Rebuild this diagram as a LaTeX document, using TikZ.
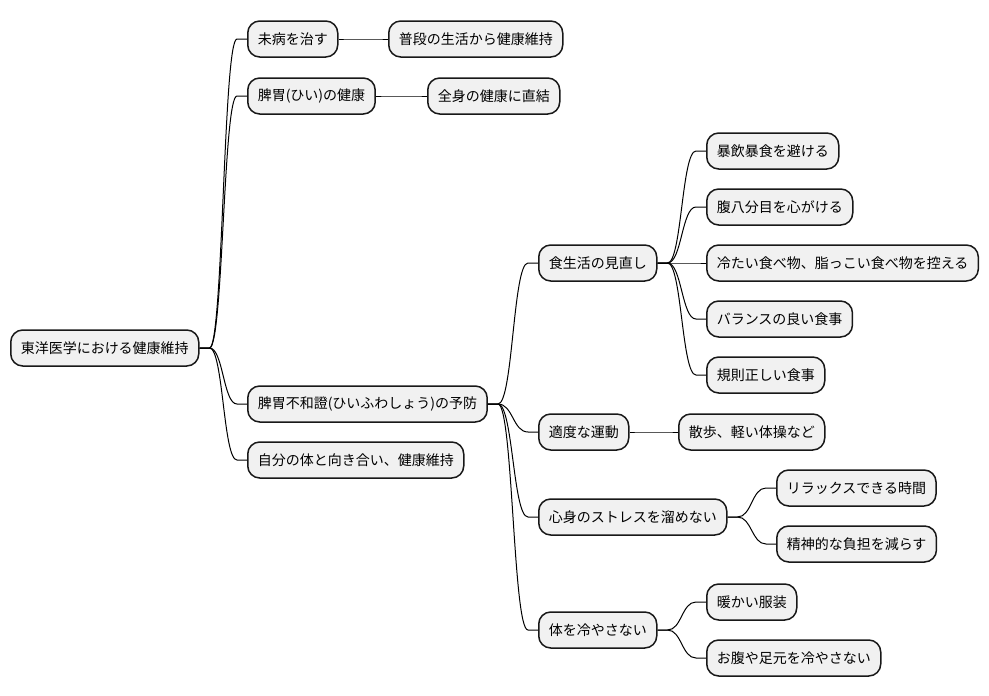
\documentclass[tikz,border=0pt]{standalone}
\usepackage{fontspec}
\setmainfont{Noto Sans CJK JP}
\usetikzlibrary{calc}
\definecolor{topicfill}{HTML}{F1F1F1}
\definecolor{topicline}{HTML}{181818}

\begin{document}
\begin{tikzpicture}[x=1pt, y=-1pt,
    topic/.style={draw=topicline, line width=1.5pt, fill=topicfill, rounded corners=12pt,
      anchor=west, minimum height=36pt, inner xsep=10pt, inner ysep=0pt,
      font=\fontsize{14}{16}\selectfont},
    branch/.style={draw=black, line width=1pt}]
  \useasboundingbox (0,0) rectangle (989,696);
  % root and first level
  \node[topic] (root) at (10,348) {東洋医学における健康維持};
  \node[topic] (mibyo) at (247,39) {未病を治す};
  \node[topic] (hii) at (247,96) {脾胃(ひい)の健康};
  \node[topic] (yobo) at (247,404) {脾胃不和證(ひいふわしょう)の予防};
  \node[topic] (jibun) at (247,460) {自分の体と向き合い、健康維持};
  % second level
  \node[topic] (fudan) at (388,39) {普段の生活から健康維持};
  \node[topic] (zenshin) at (427,96) {全身の健康に直結};
  \node[topic] (shoku) at (538,263) {食生活の見直し};
  \node[topic] (undo) at (538,432) {適度な運動};
  \node[topic] (stress) at (538,517) {心身のストレスを溜めない};
  \node[topic] (hiyasu) at (538,630) {体を冷やさない};
  % third level
  \node[topic] (boin) at (706,151) {暴飲暴食を避ける};
  \node[topic] (hara) at (706,207) {腹八分目を心がける};
  \node[topic] (tsumetai) at (706,263) {冷たい食べ物、脂っこい食べ物を控える};
  \node[topic] (balance) at (706,319) {バランスの良い食事};
  \node[topic] (kisoku) at (706,375) {規則正しい食事};
  \node[topic] (sanpo) at (678,432) {散歩、軽い体操など};
  \node[topic] (relax) at (776,488) {リラックスできる時間};
  \node[topic] (futan) at (776,544) {精神的な負担を減らす};
  \node[topic] (danka) at (706,602) {暖かい服装};
  \node[topic] (ashimoto) at (706,658) {お腹や足元を冷やさない};
  % branches
  \foreach \a/\b in {root/mibyo, root/hii, root/yobo, root/jibun,
      mibyo/fudan, hii/zenshin,
      yobo/shoku, yobo/undo, yobo/stress, yobo/hiyasu,
      shoku/boin, shoku/hara, shoku/tsumetai, shoku/balance, shoku/kisoku,
      undo/sanpo, stress/relax, stress/futan, hiyasu/danka, hiyasu/ashimoto}
    \draw[branch] let \p1=(\a.east), \p2=(\b.west), \n1={0.5*(\x1+\x2)} in
      (\p1) -- (\x1+10pt,\y1) .. controls (\n1,\y1) and (\n1,\y2) .. (\x2-10pt,\y2) -- (\p2);
\end{tikzpicture}
\end{document}
